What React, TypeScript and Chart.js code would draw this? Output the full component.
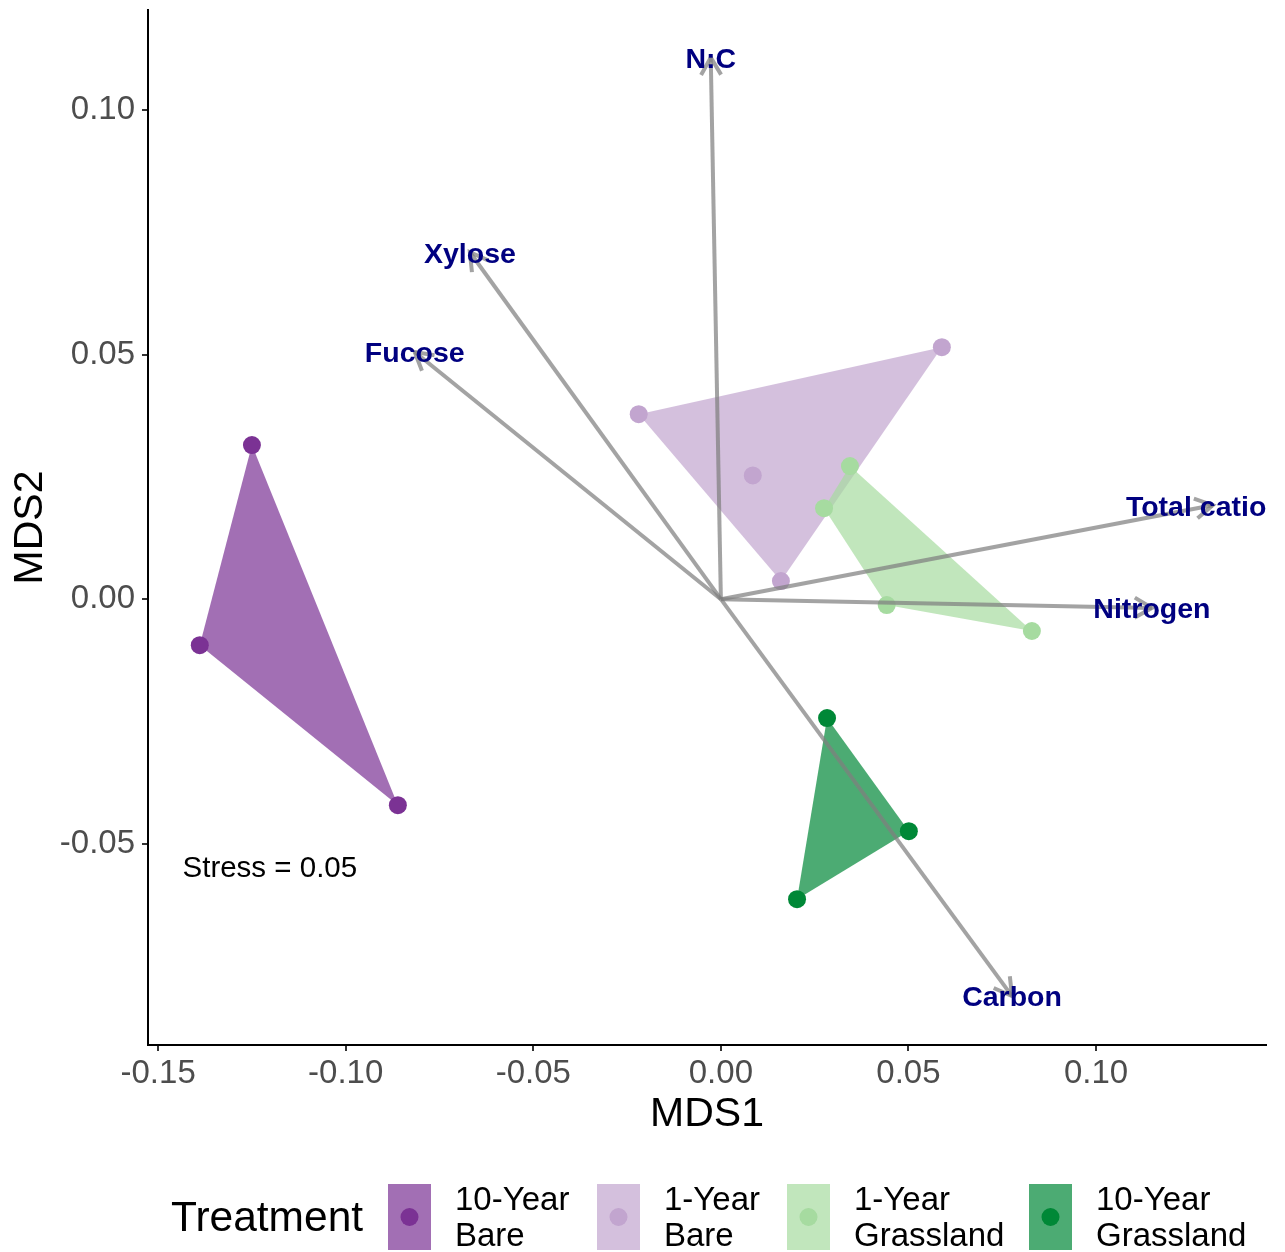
import { useEffect, useRef } from "react";
import { Chart, registerables } from "chart.js";

Chart.register(...registerables);

const FONT = "'Liberation Sans', Arial, Helvetica, sans-serif";

// Treatments (site scores from NMDS)
const treatments = ["10-Year Bare", "1-Year Bare", "1-Year Grassland", "10-Year Grassland"];
const legendLines = [
  ["10-Year", "Bare"],
  ["1-Year", "Bare"],
  ["1-Year", "Grassland"],
  ["10-Year", "Grassland"],
];
const pointColors = ["#7B3294", "#C2A5CF", "#A6DBA0", "#008837"];
const fillColors = [
  "rgba(123,50,148,0.7)",
  "rgba(194,165,207,0.7)",
  "rgba(166,219,160,0.7)",
  "rgba(0,136,55,0.7)",
];

const bare10MDS1 = [-0.125, -0.1389, -0.0861];
const bare10MDS2 = [0.0315, -0.0094, -0.0421];
const bare1MDS1 = [-0.0219, 0.0589, 0.0085, 0.016];
const bare1MDS2 = [0.0378, 0.0515, 0.0253, 0.0037];
const grass1MDS1 = [0.0344, 0.0275, 0.0442, 0.0829];
const grass1MDS2 = [0.0272, 0.0186, -0.0012, -0.0065];
const grass10MDS1 = [0.0283, 0.0501, 0.0203];
const grass10MDS2 = [-0.0243, -0.0474, -0.0613];

const groupMDS1 = [bare10MDS1, bare1MDS1, grass1MDS1, grass10MDS1];
const groupMDS2 = [bare10MDS2, bare1MDS2, grass1MDS2, grass10MDS2];

// Fitted environmental vectors
const vectorNames = ["N:C", "Xylose", "Fucose", "Total cations", "Nitrogen", "Carbon"];
const vectorMDS1 = [-0.0027, -0.0669, -0.0816, 0.1311, 0.1149, 0.0776];
const vectorMDS2 = [0.1107, 0.0709, 0.0505, 0.0192, -0.0018, -0.0811];

const stressText = "Stress = 0.05";
const stressPos = [-0.1435, -0.0552];

const xTicks = [-0.15, -0.1, -0.05, 0, 0.05, 0.1];
const yTicks = [-0.05, 0, 0.05, 0.1];

type P = { x: number; y: number };

function convexHull(pts: P[]): P[] {
  const s = [...pts].sort((a, b) => (a.x === b.x ? a.y - b.y : a.x - b.x));
  const cross = (o: P, a: P, b: P) => (a.x - o.x) * (b.y - o.y) - (a.y - o.y) * (b.x - o.x);
  const lower: P[] = [];
  for (const p of s) {
    while (lower.length >= 2 && cross(lower[lower.length - 2], lower[lower.length - 1], p) <= 0) lower.pop();
    lower.push(p);
  }
  const upper: P[] = [];
  for (let i = s.length - 1; i >= 0; i--) {
    const p = s[i];
    while (upper.length >= 2 && cross(upper[upper.length - 2], upper[upper.length - 1], p) <= 0) upper.pop();
    upper.push(p);
  }
  upper.pop();
  lower.pop();
  return lower.concat(upper);
}

const groupPoints = (i: number): P[] => groupMDS1[i].map((x, k) => ({ x, y: groupMDS2[i][k] }));

const ordinationPlugin = {
  id: "ordinationOverlay",
  beforeDatasetsDraw(chart: any) {
    const { ctx, chartArea, scales } = chart;
    const xs = scales.x;
    const ys = scales.y;
    ctx.save();
    ctx.beginPath();
    ctx.rect(chartArea.left, chartArea.top, chartArea.right - chartArea.left, chartArea.bottom - chartArea.top);
    ctx.clip();
    treatments.forEach((_, i) => {
      const hull = convexHull(groupPoints(i));
      ctx.beginPath();
      hull.forEach((p, k) => {
        const px = xs.getPixelForValue(p.x);
        const py = ys.getPixelForValue(p.y);
        if (k === 0) ctx.moveTo(px, py);
        else ctx.lineTo(px, py);
      });
      ctx.closePath();
      ctx.fillStyle = fillColors[i];
      ctx.fill();
    });
    ctx.restore();
  },
  afterDatasetsDraw(chart: any) {
    const { ctx, chartArea, scales } = chart;
    const xs = scales.x;
    const ys = scales.y;
    const ox = xs.getPixelForValue(0);
    const oy = ys.getPixelForValue(0);
    ctx.save();
    ctx.beginPath();
    ctx.rect(chartArea.left, chartArea.top, chartArea.right - chartArea.left, chartArea.bottom - chartArea.top);
    ctx.clip();

    // vector arrows
    ctx.strokeStyle = "rgba(128,128,128,0.72)";
    ctx.lineWidth = 4;
    ctx.lineCap = "butt";
    ctx.lineJoin = "miter";
    vectorNames.forEach((_, i) => {
      const tx = xs.getPixelForValue(vectorMDS1[i]);
      const ty = ys.getPixelForValue(vectorMDS2[i]);
      const ang = Math.atan2(ty - oy, tx - ox);
      const head = 20;
      const spread = Math.PI / 6;
      ctx.beginPath();
      ctx.moveTo(ox, oy);
      ctx.lineTo(tx, ty);
      ctx.stroke();
      ctx.beginPath();
      ctx.moveTo(tx - head * Math.cos(ang - spread), ty - head * Math.sin(ang - spread));
      ctx.lineTo(tx, ty);
      ctx.lineTo(tx - head * Math.cos(ang + spread), ty - head * Math.sin(ang + spread));
      ctx.stroke();
    });

    // vector labels
    ctx.font = `bold 28.5px ${FONT}`;
    ctx.fillStyle = "#000080";
    ctx.textAlign = "center";
    ctx.textBaseline = "middle";
    vectorNames.forEach((name, i) => {
      const tx = xs.getPixelForValue(vectorMDS1[i]);
      const ty = ys.getPixelForValue(vectorMDS2[i]);
      ctx.fillText(name, tx, ty + 2.5);
    });

    // stress annotation
    ctx.font = `29.5px ${FONT}`;
    ctx.fillStyle = "#000000";
    ctx.textAlign = "left";
    ctx.textBaseline = "middle";
    ctx.fillText(stressText, xs.getPixelForValue(stressPos[0]), ys.getPixelForValue(stressPos[1]));
    ctx.restore();
  },
  afterDraw(chart: any) {
    const { ctx } = chart;
    ctx.save();
    // legend
    ctx.fillStyle = "#000000";
    ctx.font = `42.5px ${FONT}`;
    ctx.textAlign = "left";
    ctx.textBaseline = "middle";
    ctx.fillText("Treatment", 171, 1219);
    const boxX = [388, 597, 787, 1029];
    const boxTop = 1184;
    const boxW = 43;
    const boxH = 66;
    treatments.forEach((_, i) => {
      ctx.fillStyle = fillColors[i];
      ctx.fillRect(boxX[i], boxTop, boxW, boxH);
      ctx.beginPath();
      ctx.arc(boxX[i] + boxW / 2, boxTop + boxH / 2, 9, 0, Math.PI * 2);
      ctx.fillStyle = pointColors[i];
      ctx.fill();
      ctx.fillStyle = "#000000";
      ctx.font = `33px ${FONT}`;
      ctx.textBaseline = "middle";
      ctx.fillText(legendLines[i][0], boxX[i] + boxW + 24, 1201);
      ctx.fillText(legendLines[i][1], boxX[i] + boxW + 24, 1237);
    });
    ctx.restore();
  },
};

export default function App() {
  const canvasRef = useRef<HTMLCanvasElement | null>(null);

  useEffect(() => {
    if (!canvasRef.current) return;
    const datasets = treatments.map((label, i) => ({
      label,
      data: groupPoints(i),
      backgroundColor: pointColors[i],
      borderColor: pointColors[i],
      pointRadius: 9,
      pointBorderWidth: 0,
      showLine: false,
    }));

    const tickFont = { size: 33, family: FONT };
    const chart = new Chart(canvasRef.current, {
      type: "scatter",
      data: { datasets },
      plugins: [ordinationPlugin],
      options: {
        animation: false,
        responsive: true,
        maintainAspectRatio: false,
        layout: { padding: { top: 10, right: 19, bottom: 117, left: 0 } },
        plugins: {
          legend: { display: false },
          tooltip: { enabled: false },
        },
        scales: {
          x: {
            type: "linear",
            min: -0.1527,
            max: 0.1453,
            afterBuildTicks: (s: any) => {
              s.ticks = xTicks.map((v) => ({ value: v }));
            },
            afterFit: (s: any) => {
              s.height = 90;
              s.paddingLeft = 0;
              s.paddingRight = 0;
            },
            ticks: {
              callback: (v: any) => Number(v).toFixed(2),
              font: tickFont,
              color: "#4D4D4D",
              padding: 3,
              maxRotation: 0,
              autoSkip: false,
            },
            grid: {
              display: true,
              drawOnChartArea: false,
              drawTicks: true,
              tickLength: 6,
              color: "#333333",
              lineWidth: 2,
            },
            border: { display: true, color: "#000000", width: 2 },
            title: {
              display: true,
              text: "MDS1",
              color: "#000000",
              font: { size: 41, family: FONT, lineHeight: 1 },
              padding: 0,
            },
          },
          y: {
            type: "linear",
            min: -0.0911,
            max: 0.1204,
            afterBuildTicks: (s: any) => {
              s.ticks = yTicks.map((v) => ({ value: v }));
            },
            afterFit: (s: any) => {
              s.width = 148;
              s.paddingTop = 0;
              s.paddingBottom = 0;
            },
            ticks: {
              callback: (v: any) => Number(v).toFixed(2),
              font: tickFont,
              color: "#4D4D4D",
              padding: 7,
              autoSkip: false,
            },
            grid: {
              display: true,
              drawOnChartArea: false,
              drawTicks: true,
              tickLength: 6,
              color: "#333333",
              lineWidth: 2,
            },
            border: { display: true, color: "#000000", width: 2 },
            title: {
              display: true,
              text: "MDS2",
              color: "#000000",
              font: { size: 41, family: FONT, lineHeight: 1 },
              padding: { top: 10, bottom: 0 },
            },
          },
        },
      },
    } as any);
    return () => chart.destroy();
  }, []);

  return (
    <div style={{ position: "fixed", left: 0, top: 0, width: 1285, height: 1252, background: "#ffffff" }}>
      <canvas ref={canvasRef} />
    </div>
  );
}
